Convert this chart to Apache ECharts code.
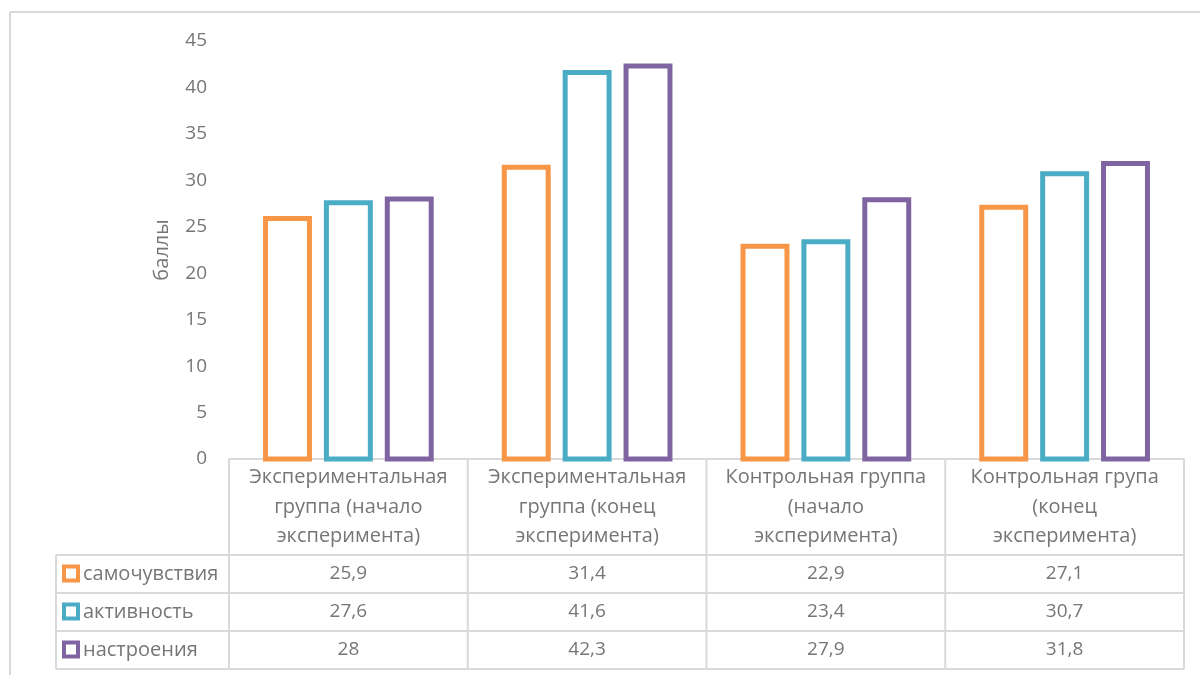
<!DOCTYPE html>
<html>
<head>
<meta charset="utf-8">
<script src="https://cdn.jsdelivr.net/npm/echarts@6/dist/echarts.min.js"></script>
<style>
  html, body {margin: 0; padding: 0; background: #fff;}
  #chart {width: 1200px; height: 675px;}
</style>
</head>
<body>
<div id="chart"></div>
<script>
const categories = [
  'Экспериментальная\nгруппа (начало\nэксперимента)',
  'Экспериментальная\nгруппа (конец\nэксперимента)',
  'Контрольная группа\n(начало\nэксперимента)',
  'Контрольная група\n(конец\nэксперимента)'
];
const seriesNames = ['самочувствия', 'активность', 'настроения'];
const wellBeing = [25.9, 31.4, 22.9, 27.1];
const activity = [27.6, 41.6, 23.4, 30.7];
const mood = [28, 42.3, 27.9, 31.8];
const colors = ['#F79646', '#4BACC6', '#8064A2'];

const allValues = [wellBeing, activity, mood];
const font = 'Open Sans';
const textColor = '#767676';
const lineColor = '#d9d9d9';

// table geometry
const tLeft = 56, gLeft = 229, gRight = 1184, axisY = 459;
const rowTops = [555, 593, 631, 669];

const chart = echarts.init(document.getElementById('chart'));

// hollow bars, border centred on the value line (like Excel)
function hollowBar(idx) {
  return function (params, api) {
    const top = api.coord([api.value(0), api.value(1)]);
    const base = api.coord([api.value(0), 0]);
    const band = api.size([1, 0])[0];
    const step = band * 0.255;
    const w = band * 0.184;
    return {
      type: 'rect',
      shape: {x: top[0] + (idx - 1) * step - w / 2, y: top[1], width: w, height: base[1] - top[1]},
      style: {fill: '#ffffff', stroke: colors[idx], lineWidth: 5}
    };
  };
}

let option = {
  animation: false,
  textStyle: {fontFamily: font},
  grid: {left: gLeft, right: 1200 - gRight, top: 41, bottom: 675 - axisY},
  xAxis: {
    type: 'category',
    data: categories,
    axisLine: {show: true, lineStyle: {color: lineColor, width: 2}},
    axisTick: {show: false},
    axisLabel: {
      color: textColor,
      fontSize: 20,
      lineHeight: 29.5,
      margin: 4,
      interval: 0
    }
  },
  yAxis: {
    type: 'value',
    min: 0,
    max: 45,
    interval: 5,
    name: 'баллы',
    nameLocation: 'middle',
    nameGap: 57,
    nameTextStyle: {color: textColor, fontSize: 20},
    axisLine: {show: false},
    axisTick: {show: false},
    splitLine: {show: false},
    axisLabel: {color: textColor, fontSize: 19, margin: 22}
  },
  series: allValues.map((vals, i) => ({
    name: seriesNames[i],
    type: 'custom',
    renderItem: hollowBar(i),
    encode: {x: 0, y: 1},
    data: vals.map((v, c) => [c, v]),
    z: 1
  }))
};
chart.setOption(option);

// data table below the axis
const g = [];
const ln = (x1, y1, x2, y2) => g.push({
  type: 'line', silent: true, z: 10,
  shape: {x1: x1, y1: y1, x2: x2, y2: y2},
  style: {stroke: lineColor, lineWidth: 2}
});
// outer frame of chart area
ln(10, 12, 1200, 12);
ln(10, 12, 10, 675);
// table lines
rowTops.forEach(y => ln(tLeft, y, gRight, y));
ln(tLeft, rowTops[0], tLeft, rowTops[3]);
const colEdges = [gLeft];
categories.forEach((c, i) => {
  colEdges.push(gLeft + (gRight - gLeft) / categories.length * (i + 1));
});
colEdges.forEach(x => ln(x, axisY + 1, x, rowTops[3]));

seriesNames.forEach((name, r) => {
  const yc = (rowTops[r] + rowTops[r + 1]) / 2;
  g.push({
    type: 'rect', silent: true,
    shape: {x: 64, y: yc - 7.5, width: 14, height: 14},
    style: {fill: '#fff', stroke: colors[r], lineWidth: 4}
  });
  g.push({
    type: 'text', silent: true, x: 83, y: yc,
    style: {text: name, fill: textColor, fontSize: 20, fontFamily: font, verticalAlign: 'middle', align: 'left'}
  });
  allValues[r].forEach((v, c) => {
    const cx = chart.convertToPixel({xAxisIndex: 0}, c);
    g.push({
      type: 'text', silent: true, x: cx, y: yc,
      style: {text: String(v).replace('.', ','), fill: textColor, fontSize: 19, fontFamily: font, verticalAlign: 'middle', align: 'center'}
    });
  });
});

chart.setOption({graphic: g});
</script>
</body>
</html>
